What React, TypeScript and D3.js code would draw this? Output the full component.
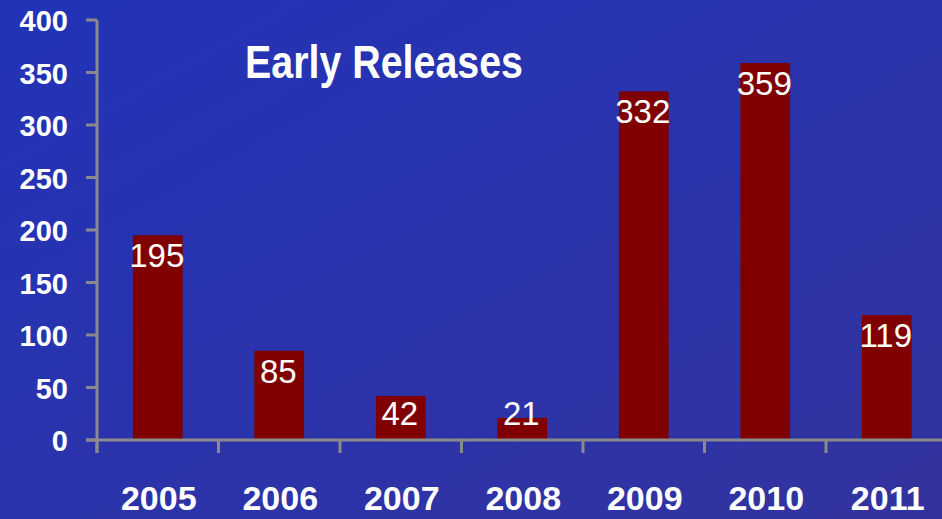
import React from "react";
import * as d3 from "d3";

const categories = ["2005", "2006", "2007", "2008", "2009", "2010", "2011"];
const values = [195, 85, 42, 21, 332, 359, 119];
const yTicks = [0, 50, 100, 150, 200, 250, 300, 350, 400];
const title = "Early Releases";

const W = 942;
const H = 519;

export default function App() {
  const x = d3.scaleBand<string>().domain(categories).range([97, 947.5]).paddingInner(0.59).paddingOuter(0.295);
  const y = d3.scaleLinear().domain([0, 400]).range([440, 20]);
  const step = x.step();
  const axisColor = "#8a8a8a";
  return (
    <svg width={W} height={H} style={{ position: "absolute", left: 0, top: 0 }}>
      <defs>
        <linearGradient id="bg" x1="0" y1="0" x2="1" y2="1">
          <stop offset="0%" stopColor="#2233b8" />
          <stop offset="100%" stopColor="#33339e" />
        </linearGradient>
      </defs>
      <rect x={0} y={0} width={W} height={H} fill="url(#bg)" />
      {values.map((v, i) => (
        <rect key={categories[i]} x={x(categories[i])} y={y(v)} width={x.bandwidth()} height={y(0) - y(v)} fill="#800000" />
      ))}
      {/* y axis */}
      <line x1={97} x2={97} y1={y(400)} y2={y(0) + 13} stroke={axisColor} strokeWidth={3} />
      {yTicks.map((t) => (
        <g key={t}>
          <line x1={86} x2={97} y1={y(t)} y2={y(t)} stroke={axisColor} strokeWidth={3} />
          <text x={68} y={y(t) + 11} textAnchor="end" fill="#fff" fontFamily="Liberation Sans, Arial, sans-serif" fontWeight="bold" fontSize={29}>
            {t}
          </text>
        </g>
      ))}
      {/* x axis */}
      <line x1={86} x2={W} y1={y(0)} y2={y(0)} stroke={axisColor} strokeWidth={3} />
      {categories.map((c, i) => (
        <line key={"t" + c} x1={97 + i * step} x2={97 + i * step} y1={y(0)} y2={y(0) + 13} stroke={axisColor} strokeWidth={3} />
      ))}
      {categories.map((c) => (
        <text key={"l" + c} x={(x(c) as number) + x.bandwidth() / 2 + 1} y={510} textAnchor="middle" fill="#fff" fontFamily="Liberation Sans, Arial, sans-serif" fontWeight="bold" fontSize={34}>
          {c}
        </text>
      ))}
      {values.map((v, i) => (
        <text key={"v" + i} x={(x(categories[i]) as number) + x.bandwidth() / 2 - 1} y={Math.min(y(v) + 32, y(0) - 15)} textAnchor="middle" fill="#fff" fontFamily="Liberation Sans, Arial, sans-serif" fontSize={33}>
          {v}
        </text>
      ))}
      <text x={245} y={78} fill="#fff" fontFamily="Liberation Sans, Arial, sans-serif" fontWeight="bold" fontSize={46} textLength={278} lengthAdjust="spacingAndGlyphs">
        {title}
      </text>
    </svg>
  );
}
